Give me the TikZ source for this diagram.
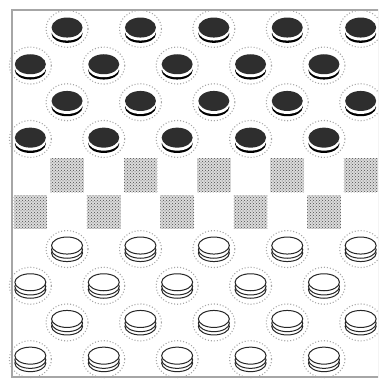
\documentclass[tikz,border=0pt]{standalone}
\usetikzlibrary{patterns}
\tikzset{
  boardline/.style={draw=gray!70, line width=1.4pt},
  halo/.style={draw=gray!70, line width=1.1pt, dash pattern=on 1pt off 2pt},
  stipplebase/.style={fill=gray!28},
  stipple/.style={pattern=crosshatch dots, pattern color=gray!60!black},
  blackpiece/.pic={
    \draw[halo] (0,0.5) ellipse [x radius=21pt, y radius=18.5pt];
    \fill[black] (0,5.5) ellipse [x radius=15.5pt, y radius=9pt];
    \fill[white] (0,3.2) ellipse [x radius=15.5pt, y radius=9pt];
    \fill[black!82] (0,-0.8) ellipse [x radius=15.5pt, y radius=10pt];
  },
  whitepiece/.pic={
    \draw[halo] (0,0.5) ellipse [x radius=21pt, y radius=18.5pt];
    \filldraw[fill=white, draw=black!85, line width=1pt] (0,4.5) ellipse [x radius=15.5pt, y radius=8.5pt];
    \filldraw[fill=white, draw=black!85, line width=1pt] (0,1.2) ellipse [x radius=15.5pt, y radius=8.5pt];
    \filldraw[fill=white, draw=black!85, line width=1pt] (0,-3) ellipse [x radius=15.5pt, y radius=8.5pt];
  }
}
\begin{document}
\begin{tikzpicture}[x=1pt,y=-1pt]
\useasboundingbox (0,0) rectangle (378,379);
\fill[white] (0,0) rectangle (378,379);
\clip (0,0) rectangle (378,379);
\foreach \r in {0,...,9}{
  \foreach \c in {0,...,9}{
    \pgfmathtruncatemacro\dk{mod(\r+\c,2)}
    \pgfmathsetmacro\xa{12+36.7*\c}
    \pgfmathsetmacro\ya{10+36.7*\r}
    \pgfmathsetmacro\cx{\xa+18.35}
    \pgfmathsetmacro\cy{\ya+18.35}
    \ifnum\dk=1
      \ifnum\r<4
        \pic at (\cx,\cy) {blackpiece};
      \else\ifnum\r>5
        \pic at (\cx,\cy) {whitepiece};
      \else
        \path[stipplebase] (\xa+1.5,\ya+1.5) rectangle (\xa+35.2,\ya+35.2);
        \path[stipple] (\xa+1.5,\ya+1.5) rectangle (\xa+35.2,\ya+35.2);
      \fi\fi
    \fi
  }
}
\draw[boardline] (12,10) rectangle (379,377);
\end{tikzpicture}
\end{document}
